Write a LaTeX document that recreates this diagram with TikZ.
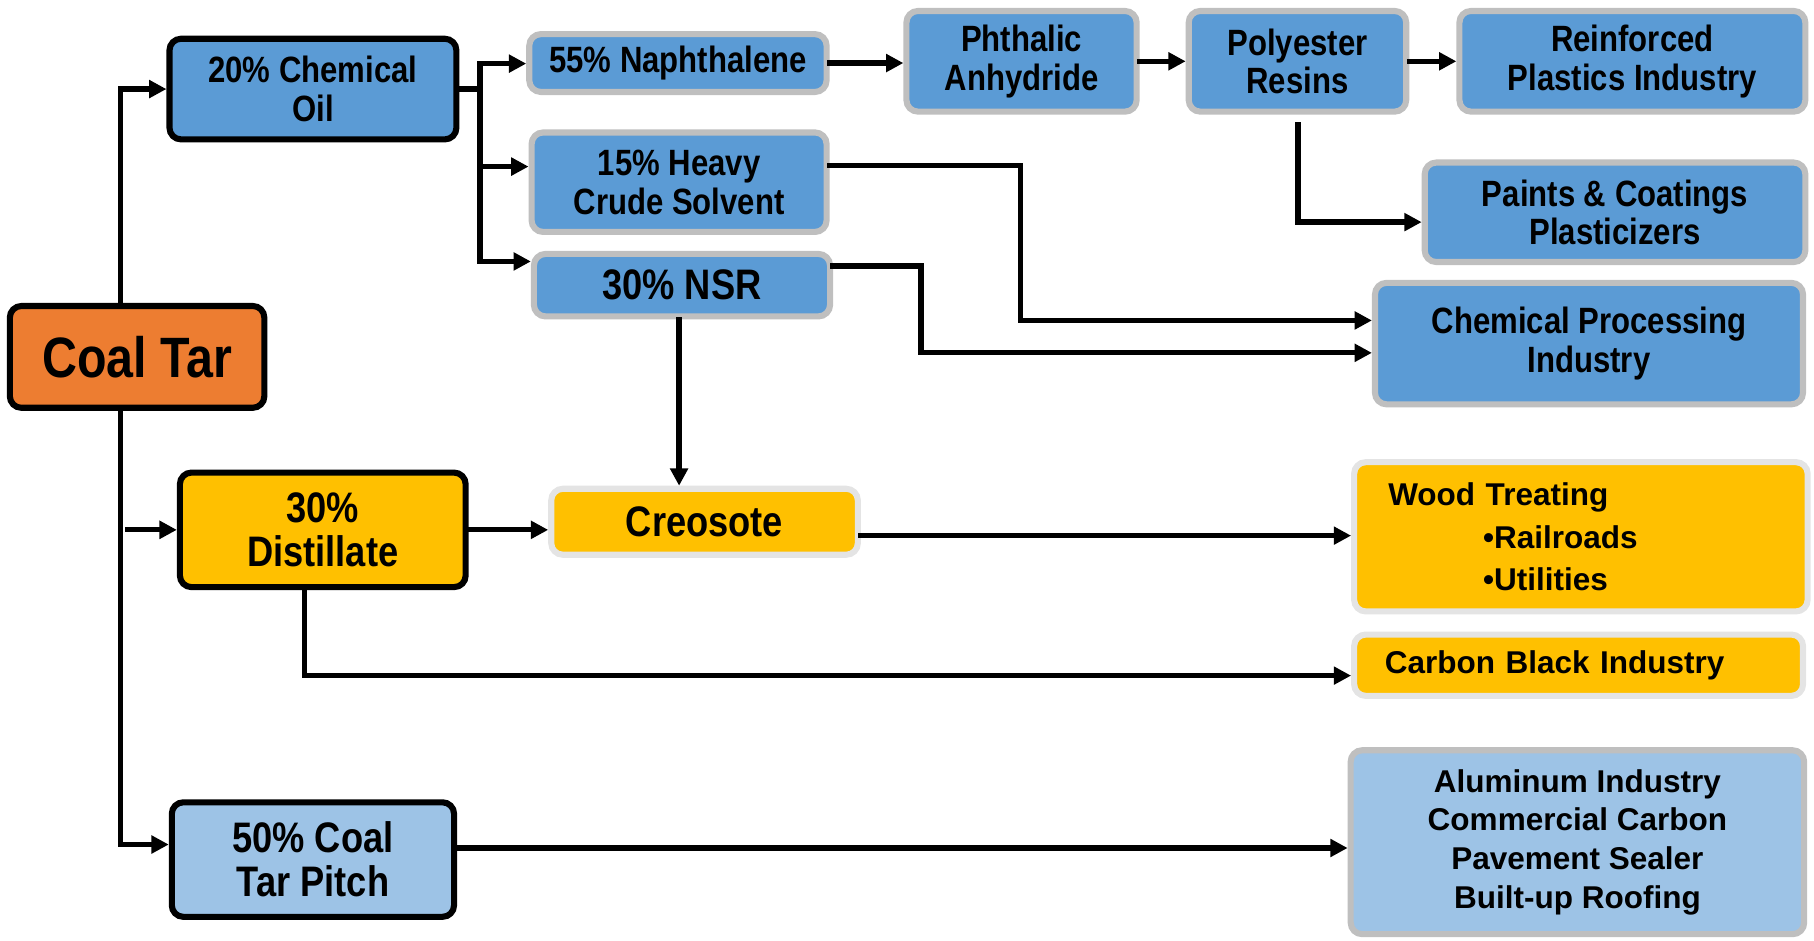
\documentclass[tikz,border=0pt]{standalone}
\usepackage{fontspec}
\setmainfont{Liberation Sans}
\newfontfamily\cond{Liberation Sans}[FakeStretch=0.85]
\usetikzlibrary{arrows.meta}
\definecolor{blueA}{HTML}{5B9BD5}
\definecolor{blueL}{HTML}{9DC3E6}
\definecolor{orangeA}{HTML}{ED7D31}
\definecolor{yellowA}{HTML}{FFC000}
\definecolor{grayB}{HTML}{BFBFBF}
\definecolor{grayY}{HTML}{E4E4E4}
\begin{document}
\begin{tikzpicture}[x=0.02cm,y=-0.02cm,
  box/.style={rounded corners=0.2cm, line width=3pt, inner sep=0pt, align=center},
  blk/.style={box, draw=black},
  gb/.style={box, draw=grayB},
  gy/.style={box, draw=grayY},
  sz/.style 2 args={minimum width={(#1-5)*0.02cm}, minimum height={(#2-5)*0.02cm}},
  fA/.style={font=\cond\bfseries\fontsize{18}{19}\selectfont},
  fB/.style={font=\cond\bfseries\fontsize{21}{21.5}\selectfont},
  fR/.style={font=\bfseries\fontsize{15.5}{19}\selectfont},
  line/.style={line width=2.6pt, line cap=rect},
  arr/.style={line, -{Triangle[length=0.3cm,width=0.3cm]}}
]
\useasboundingbox (0,0) rectangle (1568,813);
% nodes
\node[blk, fill=orangeA, sz={225}{93}, font=\cond\bfseries\fontsize{28}{30}\selectfont] (coal) at (118.5,308.5) {Coal Tar};
\node[blk, fill=blueA, sz={253}{92}, fA] (chem) at (270.5,77) {20\% Chemical\\Oil};
\node[gb, fill=blueA, sz={262}{55}, fA] (naph) at (586,54.5) {55\% Naphthalene};
\node[gb, fill=blueA, sz={260}{91}, fA] (heavy) at (587,157.5) {15\% Heavy\\Crude Solvent};
\node[gb, fill=blueA, sz={261}{59}, fB] (nsr) at (589.5,246.5) {30\% NSR};
\node[gb, fill=blueA, sz={204}{92}, fA] (phth) at (883,53) {Phthalic\\Anhydride};
\node[gb, fill=blueA, sz={193}{92}, fA] (poly) at (1121.5,53) {Polyester\\Resins};
\node[gb, fill=blueA, sz={304}{92}, fA] (reinf) at (1411,53) {Reinforced\\Plastics Industry};
\node[gb, fill=blueA, sz={334}{91}, fA] (paints) at (1396,183.5) {Paints \& Coatings\\Plasticizers};
\node[gb, fill=blueA, sz={375}{110}, fA] (cpi) at (1373.5,297) {Chemical Processing\\Industry};
\node[blk, fill=yellowA, sz={252}{104}, fB] (dist) at (279,458) {30\%\\Distillate};
\node[gy, fill=yellowA, sz={270}{62}, fB] (creo) at (609,451) {Creosote};
\node[gy, fill=yellowA, sz={397}{134}, align=left, text width=6.66cm, font=\bfseries\fontsize{15.5}{21}\selectfont] (wood) at (1366.5,464) {Wood Treating\\\hspace*{1.64cm}•Railroads\\\hspace*{1.64cm}•Utilities};
\node[gy, fill=yellowA, sz={393}{58}, align=left, text width=6.7cm, fR] (cb) at (1364.5,575) {Carbon Black Industry};
\node[blk, fill=blueL, sz={249}{104}, fB] (pitch) at (270.5,743) {50\% Coal\\Tar Pitch};
\node[gb, fill=blueL, sz={397}{164}, fR] (alu) at (1363.5,728) {Aluminum Industry\\Commercial Carbon\\Pavement Sealer\\Built-up Roofing};
% coordinates
\coordinate (v1) at (104,0);
\coordinate (v1b) at (104,730);
\coordinate (d0) at (110,458);
\coordinate (bus) at (415,0);
\coordinate (yNa) at (0,55);
\coordinate (yH) at (0,144);
\coordinate (yN) at (0,226);
\coordinate (p0) at (1122,108);
\coordinate (p1) at (1122,192);
\coordinate (h0) at (0,143);
\coordinate (h1) at (882,277);
\coordinate (n0) at (0,230);
\coordinate (n1) at (796,305);
\coordinate (cx) at (587,0);
\coordinate (c0) at (0,463);
\coordinate (dd) at (263,584);
\coordinate (py) at (0,733);
% connectors
\draw[arr] (coal.north -| v1) |- (chem.west);
\draw[arr] (coal.south -| v1) -- (v1b) -- (pitch.west |- v1b);
\draw[arr] (d0) -- (dist.west |- d0);
\draw[line] (chem.east) -- (chem.east -| bus);
\draw[line] (bus |- yNa) -- (bus |- yN);
\draw[arr] (bus |- yNa) -- (naph.west |- yNa);
\draw[arr] (bus |- yH) -- (heavy.west |- yH);
\draw[arr] (bus |- yN) -- (nsr.west |- yN);
\draw[arr] (naph.east) -- (phth.west |- naph.east);
\draw[arr] (phth.east) -- (poly.west);
\draw[arr] (poly.east) -- (reinf.west);
\draw[arr] (p0) -- (p1) -- (paints.west |- p1);
\draw[arr] (heavy.east |- h0) -| (h1) -- (cpi.west |- h1);
\draw[arr] (nsr.east |- n0) -| (n1) -- (cpi.west |- n1);
\draw[arr] (nsr.south -| cx) -- (creo.north -| cx);
\draw[arr] (dist.east) -- (creo.west |- dist.east);
\draw[arr] (creo.east |- c0) -- (wood.west |- c0);
\draw[arr] (dist.south -| dd) -- (dd) -- (cb.west |- dd);
\draw[arr] (pitch.east |- py) -- (alu.west |- py);
\end{tikzpicture}
\end{document}
